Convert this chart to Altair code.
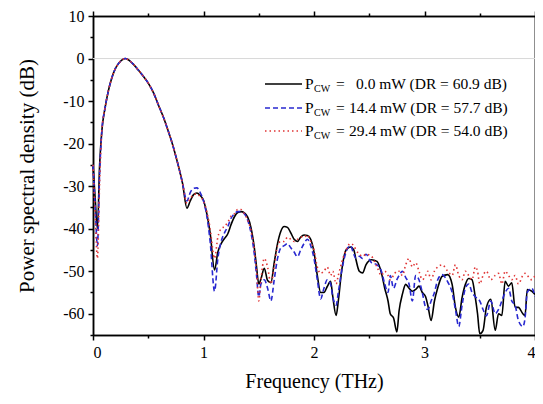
import altair as alt
import pandas as pd

freq = [0.0, 0.02, 0.04, 0.06, 0.08, 0.11, 0.14, 0.17, 0.20, 0.23,
        0.26, 0.29, 0.32, 0.36, 0.41, 0.45, 0.50, 0.55, 0.59, 0.64,
        0.68, 0.72, 0.75, 0.78, 0.81, 0.85, 0.88, 0.91, 0.94, 0.97,
        1.00, 1.03, 1.06, 1.10, 1.13, 1.16, 1.19, 1.22, 1.25, 1.28,
        1.31, 1.34, 1.37, 1.40, 1.43, 1.46, 1.48, 1.50, 1.52, 1.55,
        1.58, 1.61, 1.64, 1.67, 1.70, 1.73, 1.76, 1.79, 1.82, 1.85,
        1.88, 1.91, 1.94, 1.97, 2.00, 2.03, 2.06, 2.09, 2.12, 2.15,
        2.17, 2.20, 2.22, 2.25, 2.29, 2.33, 2.36, 2.38, 2.41, 2.44,
        2.47, 2.52, 2.57, 2.61, 2.64, 2.67, 2.69, 2.72, 2.75, 2.77,
        2.80, 2.83, 2.86, 2.89, 2.92, 2.95, 2.98, 3.01, 3.03, 3.06,
        3.09, 3.12, 3.16, 3.21, 3.25, 3.28, 3.31, 3.34, 3.37, 3.40,
        3.43, 3.46, 3.48, 3.50, 3.53, 3.56, 3.60, 3.64, 3.67, 3.70,
        3.73, 3.76, 3.79, 3.82, 3.85, 3.89, 3.91, 3.93, 3.97, 4.00]

psd_0mw = [-25, -33, -40, -25, -17, -11.5, -7.5, -4.6, -2.5, -1.2,
           -0.4, 0, -0.3, -1.2, -2.7, -4.0, -5.8, -8.2, -10.8, -14,
           -17, -20.2, -23, -26, -29.3, -35.2, -33.5, -32, -31.6, -32.2,
           -33.3, -36.5, -41, -49.7, -45.5, -43.5, -42.3, -41.2, -39, -37.2,
           -36.2, -36, -36.3, -37.3, -39.8, -44.5, -49, -53, -51.8, -49.3,
           -52.2, -52.7, -48, -43.5, -40.6, -39.5, -39.7, -41, -42.5, -43,
           -42, -41.5, -41.6, -42.5, -45.5, -51, -55, -55, -53.6, -52.4,
           -56, -60.4, -57, -50, -45, -44.3, -45, -47.3, -50, -50.4,
           -48.5, -47.3, -47.7, -50.4, -54, -57, -60, -61, -64.3, -59.3,
           -55.4, -53.1, -54, -54.7, -54.3, -53.5, -55, -56, -58, -61.6,
           -57, -53.9, -51.2, -50.8, -53.1, -58.5, -60.8, -56.2, -53.1, -51.7,
           -52, -56.2, -60, -64.7, -63.9, -58.5, -56.6, -63.9, -60, -60.4,
           -52.4, -53.5, -52.7, -58.5, -58.5, -60, -60.4, -54.3, -54.7, -55.5]

psd_14mw = [-25, -35, -44, -27, -17, -11.5, -7.5, -4.6, -2.5, -1.2,
            -0.4, 0, -0.3, -1.2, -2.7, -4.0, -5.8, -8.2, -10.8, -14,
            -17, -20.2, -23, -26, -29.3, -33.5, -31.5, -30.5, -30.4, -31.5,
            -33.5, -37, -43, -54.7, -47, -43, -41, -39.5, -37.5, -36.5,
            -36, -36, -36.5, -38, -41, -46, -51, -56, -53, -52,
            -54, -57, -52, -47, -44.5, -44, -43.5, -44.5, -45.5, -46.6,
            -45, -43.5, -42.5, -44, -47, -52, -56.5, -54, -52, -53,
            -56, -58, -55, -50, -45.5, -44, -46, -47, -46.5, -47,
            -46, -48, -48.5, -50, -53, -55, -51, -54, -52, -51,
            -50, -51.5, -53, -57, -51, -52, -55, -58.5, -59, -57,
            -55, -52, -50.8, -52.5, -55, -59, -63, -58, -54, -53,
            -55, -56, -56.5, -57, -59, -60.5, -57, -60, -59, -57,
            -55, -54, -57, -58, -61.6, -63, -61, -55, -54, -56]

psd_29mw = [-25, -37, -47, -29, -17, -11.5, -7.5, -4.6, -2.5, -1.2,
            -0.4, 0, -0.3, -1.2, -2.7, -4.0, -5.8, -8.2, -10.8, -14,
            -17, -20.2, -23, -26, -29.3, -34, -33, -32, -31.8, -32.5,
            -33.5, -36, -40, -47, -42, -40, -39.5, -38.5, -37, -36.5,
            -35.5, -35.5, -36.5, -38, -40.5, -45, -50, -57, -52, -47,
            -49, -53, -49, -44, -43, -43, -42, -42.5, -43, -42.5,
            -42, -42, -41.5, -43, -45, -49, -50.5, -50, -49, -51,
            -50, -53, -51, -48, -45, -43.5, -44, -45, -46, -46.5,
            -46, -46.5, -49, -51, -50, -51, -52, -51, -50, -50,
            -51, -48.5, -47, -49, -48, -50, -52, -51, -50, -52,
            -50, -49, -48.5, -50, -51, -48.5, -51, -52, -50, -51,
            -52, -49, -50, -53, -51, -50, -52, -51, -50.5, -53,
            -50, -51, -52, -51, -53, -51, -50.5, -51, -52, -51]

legend_values = ["0.0 mW (DR = 60.9 dB)", "14.4 mW (DR = 57.7 dB)", "29.4 mW (DR = 54.0 dB)"]
x_major = [0, 1, 2, 3, 4]
x_minor = [0.5, 1.5, 2.5, 3.5]
y_major = [-60, -50, -40, -30, -20, -10, 0, 10]
y_minor = [-65, -55, -45, -35, -25, -15, -5, 5]

assert len(freq) == len(psd_0mw) == len(psd_14mw) == len(psd_29mw)

df = pd.DataFrame({"freq": freq, "p0": psd_0mw, "p14": psd_14mw, "p29": psd_29mw})

SERIF = "Liberation Serif"
xs = alt.Scale(domain=[0, 4], nice=False, zero=False)
ys = alt.Scale(domain=[-65, 10], nice=False, zero=False)

common = dict(domainColor="black", domainWidth=1.5, tickColor="black", tickWidth=1.5,
              grid=False, labelFont=SERIF, labelFontSize=16, labelColor="black")

def make_axis(orient, values, size, labels, title=None, title_pad=10, title_size=20):
    kw = dict(common)
    kw.update(orient=orient, values=values, tickSize=size, labels=labels)
    if labels:
        kw.update(labelPadding=4, labelExpr="datum.value < 0 ? '-' + abs(datum.value) : '' + datum.value")
    if title:
        kw.update(title=title, titleFont=SERIF, titleFontSize=title_size, titleFontWeight="normal",
                  titleColor="black", titlePadding=title_pad)
    else:
        kw.update(title=None)
    return alt.Axis(**kw)

base = alt.Chart(df)

zero_rule = alt.Chart(pd.DataFrame({"y": [0]})).mark_rule(color="#d8d8d8", strokeWidth=1).encode(
    y=alt.Y("y:Q", scale=ys, axis=None))

black = base.mark_line(color="black", strokeWidth=1.6, interpolate="monotone").encode(
    x=alt.X("freq:Q", scale=xs, axis=make_axis("bottom", x_major, 5, True, "Frequency (THz)", 11, 20)),
    y=alt.Y("p0:Q", scale=ys, axis=make_axis("left", y_major, 5, True, "Power spectral density (dB)", 25, 21)))

blue = base.mark_line(color="#2828d0", strokeWidth=1.6, strokeDash=[5, 3], interpolate="monotone").encode(
    x=alt.X("freq:Q", scale=xs, axis=make_axis("top", x_major, 5, False)),
    y=alt.Y("p14:Q", scale=ys, axis=make_axis("right", y_major, 5, False)))

red = base.mark_line(color="#e03535", strokeWidth=1.6, strokeDash=[1.5, 3], interpolate="monotone").encode(
    x=alt.X("freq:Q", scale=xs, axis=make_axis("bottom", x_minor, 3, False)),
    y=alt.Y("p29:Q", scale=ys, axis=make_axis("left", y_minor, 3, False)))

ghost = base.mark_line(opacity=0).encode(
    x=alt.X("freq:Q", scale=xs, axis=make_axis("top", x_minor, 3, False)),
    y=alt.Y("p0:Q", scale=ys, axis=make_axis("right", y_minor, 3, False)))

# legend (positions relative to plot area)
row_y = [68, 92, 115]
styles = [("black", []), ("#2828d0", [5, 3]), ("#e03535", [1.5, 3])]
leg_layers = []
for i, (col, dash) in enumerate(styles):
    one = pd.DataFrame({"label": [legend_values[i]]})
    kw = dict(color=col, strokeWidth=1.6)
    if dash:
        kw["strokeDash"] = dash
    leg_layers.append(alt.Chart(one).mark_rule(**kw).encode(
        x=alt.value(172), x2=alt.value(209), y=alt.value(row_y[i])))
    leg_layers.append(alt.Chart(one).mark_text(font=SERIF, fontSize=15.5, align="left", baseline="middle", color="black").encode(
        x=alt.value(212), y=alt.value(row_y[i]), text=alt.value("P")))
    leg_layers.append(alt.Chart(one).mark_text(font=SERIF, fontSize=10, align="left", baseline="middle", color="black").encode(
        x=alt.value(221), y=alt.value(row_y[i] + 5), text=alt.value("CW")))
    leg_layers.append(alt.Chart(one).mark_text(font=SERIF, fontSize=15.5, align="left", baseline="middle", color="black").encode(
        x=alt.value(243), y=alt.value(row_y[i]), text=alt.value("=")))
    leg_layers.append(alt.Chart(one).mark_text(font=SERIF, fontSize=15.5, align="left", baseline="middle", color="black").encode(
        x=alt.value(263 if i == 0 else 256), y=alt.value(row_y[i]), text="label:N"))

chart = alt.layer(zero_rule, black, blue, red, ghost, *leg_layers).resolve_axis(
    x="independent", y="independent").properties(
    width=442, height=319,
    padding={"left": 85, "top": 8, "right": 0, "bottom": 60},
    autosize=alt.AutoSizeParams(type="none")).configure_view(stroke=None)

chart.save("out.html", embed_options={"renderer": "svg", "actions": False})
